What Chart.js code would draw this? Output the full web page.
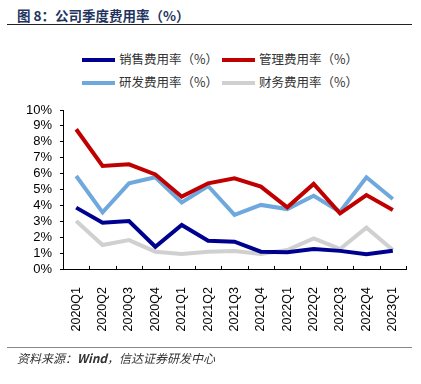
<!DOCTYPE html>
<html>
<head>
<meta charset="utf-8">
<script src="https://cdn.jsdelivr.net/npm/chart.js@4.4.1/dist/chart.umd.min.js"></script>
<style>
    body { margin: 0; background: #fff; width: 421px; height: 384px; overflow: hidden; position: relative; }
    #titulo { position: absolute; left: 17px; top: 5px; font: bold 13.5px "Noto Sans CJK SC", sans-serif; color: #1f3560; white-space: nowrap; }
    #lineaTitulo { position: absolute; left: 7px; top: 24px; width: 405px; height: 1px; background: #222; }
    .leyenda { position: absolute; font: 12.5px "Noto Sans CJK SC", sans-serif; color: #333; white-space: nowrap; line-height: 16px; }
    .leyenda span { display: inline-block; width: 33px; height: 4px; vertical-align: middle; margin-right: 4px; position: relative; top: -1px; }
    #lineaFuente { position: absolute; left: 7px; top: 347px; width: 405px; height: 1px; background: #888; }
    #fuente { position: absolute; left: 17px; top: 349px; font: italic 12px "Noto Sans CJK SC", sans-serif; color: #333; white-space: nowrap; }
    canvas { position: absolute; left: 0; top: 0; }
</style>
</head>
<body>
<div id="titulo">图 8：公司季度费用率（%）</div>
<div id="lineaTitulo"></div>
<div id="leyenda"></div>
<canvas id="grafico" width="421" height="384"></canvas>
<div id="lineaFuente"></div>
<div id="fuente">资料来源：<b>Wind</b>，信达证券研发中心</div>
<script>
// Datos del gráfico
const trimestres = ['2020Q1', '2020Q2', '2020Q3', '2020Q4', '2021Q1', '2021Q2', '2021Q3', '2021Q4', '2022Q1', '2022Q2', '2022Q3', '2022Q4', '2023Q1'];
const ventas = [3.86, 2.91, 3.02, 1.40, 2.77, 1.78, 1.72, 1.09, 1.06, 1.26, 1.14, 0.93, 1.15];
const gestion = [8.79, 6.48, 6.58, 5.95, 4.55, 5.39, 5.70, 5.18, 3.88, 5.35, 3.50, 4.65, 3.71];
const investigacion = [5.85, 3.56, 5.39, 5.77, 4.19, 5.22, 3.40, 4.03, 3.77, 4.61, 3.60, 5.77, 4.40];
const finanzas = [3.02, 1.51, 1.82, 1.09, 0.94, 1.09, 1.13, 0.94, 1.19, 1.93, 1.26, 2.60, 1.19];
const ticksY = [0, 1, 2, 3, 4, 5, 6, 7, 8, 9, 10];

const series = [
    { label: '销售费用率（%）', data: ventas, color: '#000090', x: 82, y: 51 },
    { label: '管理费用率（%）', data: gestion, color: '#c00000', x: 222, y: 51 },
    { label: '研发费用率（%）', data: investigacion, color: '#6fa8dc', x: 82, y: 74 },
    { label: '财务费用率（%）', data: finanzas, color: '#d0d0d0', x: 222, y: 74 }
];

// Leyenda en HTML
const leyenda = document.getElementById('leyenda');
series.forEach(s => {
    const item = document.createElement('div');
    item.className = 'leyenda';
    item.style.left = s.x + 'px';
    item.style.top = s.y + 'px';
    item.innerHTML = `<span style="background:${s.color}"></span>${s.label}`;
    leyenda.appendChild(item);
});

// Marcas del eje X hacia dentro
const marcasX = {
    id: 'marcasX',
    afterDraw(chart) {
        const x = chart.scales.x;
        const ctx = chart.ctx;
        ctx.save();
        ctx.strokeStyle = '#000';
        ctx.lineWidth = 1;
        for (let i = 0; i <= trimestres.length; i++) {
            const px = Math.round(x.getPixelForValue(i - 0.5)) + 0.5;
            ctx.beginPath();
            ctx.moveTo(px, x.top);
            ctx.lineTo(px, x.top - 3);
            ctx.stroke();
        }
        ctx.restore();
    }
};

new Chart(document.getElementById('grafico').getContext('2d'), {
    type: 'line',
    data: {
        labels: trimestres,
        datasets: series.map(s => ({
            label: s.label,
            data: s.data,
            borderColor: s.color,
            backgroundColor: s.color,
            borderWidth: 4,
            pointRadius: 0,
            tension: 0
        }))
    },
    options: {
        responsive: false,
        animation: false,
        devicePixelRatio: 1,
        layout: { padding: { top: 110, right: 15, left: 0, bottom: 0 } },
        plugins: { legend: { display: false }, tooltip: { enabled: false } },
        scales: {
            x: {
                offset: true,
                grid: { display: false },
                border: { color: '#000', width: 1 },
                ticks: {
                    color: '#000',
                    font: { family: 'Liberation Sans', size: 12.5 },
                    minRotation: 90,
                    maxRotation: 90,
                    padding: 10,
                    autoSkip: false
                },
                afterFit: scale => { scale.height = 115; }
            },
            y: {
                min: 0,
                max: 10,
                afterBuildTicks: scale => { scale.ticks = ticksY.map(v => ({ value: v })); },
                grid: { drawOnChartArea: false, tickLength: 3, color: '#000' },
                border: { color: '#000', width: 1 },
                ticks: {
                    color: '#000',
                    font: { family: 'Liberation Sans', size: 13 },
                    padding: 8,
                    autoSkip: false,
                    callback: v => v + '%'
                },
                afterFit: scale => { scale.width = 63; }
            }
        }
    },
    plugins: [marcasX]
});
</script>
</body>
</html>
